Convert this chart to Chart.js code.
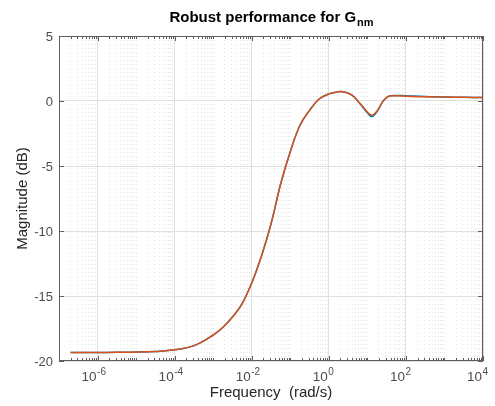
<!DOCTYPE html>
<html>
<head>
<meta charset="utf-8">
<script src="https://cdn.jsdelivr.net/npm/chart.js@4/dist/chart.umd.min.js"></script>
<style>
  html, body { margin: 0; padding: 0; background: #fff; }
</style>
</head>
<body>
<canvas id="bodeChart" width="495" height="406"></canvas>
<script>
// frequency points (rad/s) and magnitudes (dB)
const freq = [2e-7, 1e-6, 3.2e-6, 1e-5, 3.2e-5, 1e-4, 3.2e-4, 1e-3, 1.8e-3, 3.2e-3,
  5.6e-3, 0.01, 0.018, 0.032, 0.056, 0.1, 0.18, 0.32, 0.56, 1,
  1.8, 2.5, 4, 6.3, 10, 13, 18, 25, 35, 56,
  100, 320, 1000, 3200, 10000];
const magNominal = [-19.34, -19.34, -19.33, -19.31, -19.26, -19.14, -18.82, -18.0, -17.4, -16.6,
  -15.6, -14.0, -11.9, -9.4, -6.4, -3.9, -1.85, -0.7, 0.15, 0.55,
  0.72, 0.7, 0.45, -0.15, -0.85, -1.1, -0.75, -0.05, 0.35, 0.4,
  0.37, 0.32, 0.3, 0.28, 0.27];
const magPerturbed = [-19.34, -19.34, -19.33, -19.31, -19.26, -19.14, -18.82, -18.0, -17.4, -16.6,
  -15.6, -14.0, -11.9, -9.4, -6.4, -3.9, -1.85, -0.7, 0.15, 0.55,
  0.72, 0.7, 0.45, -0.17, -0.9, -1.2, -0.8, -0.05, 0.36, 0.43,
  0.4, 0.34, 0.31, 0.28, 0.27];
const yTickValues = [-20, -15, -10, -5, 0, 5];
const xLabelExps = [-6, -4, -2, 0, 2, 4];

const titleMain = 'Robust performance for G';
const titleSub = 'nm';
const xTitle = 'Frequency  (rad/s)';
const yTitle = 'Magnitude (dB)';

const FONT = '"Liberation Sans", Arial, Helvetica, sans-serif';

function decadeExp(v) {
  const e = Math.log10(v);
  return Math.abs(e - Math.round(e)) < 1e-9 ? Math.round(e) : null;
}
function isMajorX(v) {
  const e = decadeExp(v);
  return e !== null && e % 2 === 0;
}

const matlabFrame = {
  id: 'matlabFrame',
  afterDraw(chart) {
    const { ctx, chartArea: a, scales: { x, y } } = chart;
    ctx.save();

    // axes box + inward ticks
    ctx.strokeStyle = '#5e5e5e';
    ctx.lineWidth = 1;
    ctx.strokeRect(Math.round(a.left) + 0.5, Math.round(a.top) + 0.5,
      Math.round(a.right - a.left) - 1, Math.round(a.bottom - a.top) - 1);
    ctx.beginPath();
    x.ticks.forEach(t => {
      const px = Math.round(x.getPixelForValue(t.value)) + 0.5;
      const len = isMajorX(t.value) ? 5 : 3;
      ctx.moveTo(px, a.bottom); ctx.lineTo(px, a.bottom - len);
      ctx.moveTo(px, a.top); ctx.lineTo(px, a.top + len);
    });
    y.ticks.forEach(t => {
      const py = Math.round(y.getPixelForValue(t.value)) + 0.5;
      ctx.moveTo(a.left, py); ctx.lineTo(a.left + 5, py);
      ctx.moveTo(a.right, py); ctx.lineTo(a.right - 5, py);
    });
    ctx.stroke();

    // y tick labels
    ctx.fillStyle = '#4d4d4d';
    ctx.font = '13px ' + FONT;
    ctx.textAlign = 'right';
    ctx.textBaseline = 'middle';
    yTickValues.forEach(v => {
      ctx.fillText(String(v), a.left - 6, y.getPixelForValue(v) + 1);
    });

    // x tick labels 10^e
    ctx.textBaseline = 'alphabetic';
    xLabelExps.forEach(e => {
      const px = x.getPixelForValue(Math.pow(10, e));
      ctx.font = '13.5px ' + FONT;
      ctx.textAlign = 'right';
      ctx.fillText('10', px - 1, a.bottom + 20);
      ctx.font = '10px ' + FONT;
      ctx.textAlign = 'left';
      ctx.fillText(String(e), px - 0.5, a.bottom + 14);
    });

    // axis titles
    ctx.fillStyle = '#262626';
    ctx.font = '15px ' + FONT;
    ctx.textAlign = 'center';
    ctx.fillText(xTitle, (a.left + a.right) / 2, a.bottom + 36);
    ctx.save();
    ctx.translate(23, (a.top + a.bottom) / 2);
    ctx.rotate(-Math.PI / 2);
    ctx.textBaseline = 'middle';
    ctx.fillText(yTitle, 0, 0);
    ctx.restore();

    // title with subscript
    ctx.fillStyle = '#000';
    ctx.font = 'bold 15px ' + FONT;
    const w1 = ctx.measureText(titleMain).width;
    ctx.font = 'bold 11px ' + FONT;
    const w2 = ctx.measureText(titleSub).width;
    const start = (a.left + a.right) / 2 - (w1 + w2) / 2;
    ctx.textAlign = 'left';
    ctx.font = 'bold 15px ' + FONT;
    ctx.fillText(titleMain, start, 21.5);
    ctx.font = 'bold 11px ' + FONT;
    ctx.fillText(titleSub, start + w1 + 1, 26);

    ctx.restore();
  }
};

new Chart(document.getElementById('bodeChart'), {
  type: 'line',
  data: {
    datasets: [{
      label: 'nominal',
      data: freq.map((f, i) => ({ x: f, y: magNominal[i] })),
      borderColor: '#D95319',
      borderWidth: 1.5,
      pointRadius: 0,
      fill: false,
      tension: 0.4
    }, {
      label: 'perturbed',
      data: freq.map((f, i) => ({ x: f, y: magPerturbed[i] })),
      borderColor: '#0072BD',
      borderWidth: 1.5,
      pointRadius: 0,
      fill: false,
      tension: 0.4
    }]
  },
  options: {
    responsive: false,
    animation: false,
    layout: { padding: { left: 59, top: 36, right: 12, bottom: 45 } },
    plugins: { legend: { display: false }, tooltip: { enabled: false } },
    scales: {
      x: {
        type: 'logarithmic',
        min: 1e-7,
        max: 1e4,
        afterBuildTicks: (scale) => {
          const t = [];
          for (let e = -7; e < 4; e++) {
            for (let m = 1; m < 10; m++) t.push({ value: m * Math.pow(10, e) });
          }
          t.push({ value: 1e4 });
          scale.ticks = t;
        },
        ticks: { display: false, autoSkip: false },
        grid: {
          drawTicks: false,
          color: (c) => (c.tick && isMajorX(c.tick.value)) ? '#e0e0e0' : '#e4e4e4',
          lineWidth: 1
        },
        border: {
          display: false,
          dash: (c) => (c.tick && isMajorX(c.tick.value)) ? [] : [1, 3]
        }
      },
      y: {
        min: -20,
        max: 5,
        afterBuildTicks: (scale) => {
          scale.ticks = yTickValues.map(v => ({ value: v }));
        },
        ticks: { display: false },
        grid: { drawTicks: false, color: '#e0e0e0', lineWidth: 1 },
        border: { display: false }
      }
    }
  },
  plugins: [matlabFrame]
});
</script>
</body>
</html>
